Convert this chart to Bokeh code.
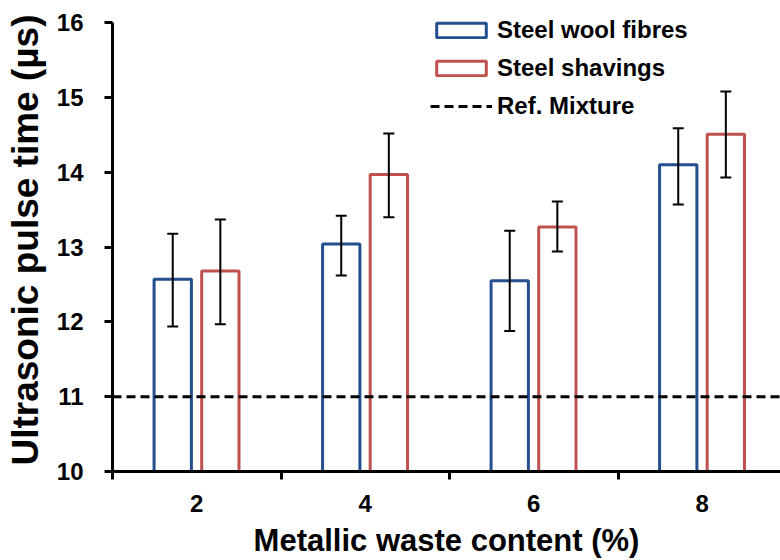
from bokeh.plotting import figure
from bokeh.models import (Range1d, FixedTicker, Whisker, ColumnDataSource,
                          Legend, LegendItem, TeeHead)
from bokeh.transform import dodge
from bokeh.embed import file_html
from bokeh.resources import INLINE

# ---- data ----
contents = [2, 4, 6, 8]
y_ticks = [10, 11, 12, 13, 14, 15, 16]
wool_mean = [12.57, 13.04, 12.55, 14.10]
wool_low = [11.94, 12.62, 11.88, 13.57]
wool_high = [13.18, 13.42, 13.22, 14.59]
shav_mean = [12.68, 13.97, 13.27, 14.51]
shav_low = [11.97, 13.40, 12.94, 13.93]
shav_high = [13.37, 14.52, 13.61, 15.08]
ref_value = 11.0
series_names = ["Steel wool fibres", "Steel shavings", "Ref. Mixture"]

BLUE = "#234F8E"
RED = "#C0504D"
FONT = "Liberation Sans"

W, H = 780, 560
LEFT, BOTTOM, TOP = 112, 89, 8
PX_PER_Y = 74.8
PX_PER_X = 84.25

src = ColumnDataSource(data=dict(
    x=contents,
    wool=wool_mean, wool_lo=wool_low, wool_hi=wool_high,
    shav=shav_mean, shav_lo=shav_low, shav_hi=shav_high,
))

frame_w = W - LEFT
frame_h = H - TOP - BOTTOM
x_range = Range1d(1, 1 + frame_w / PX_PER_X)
y_range = Range1d(y_ticks[0], y_ticks[0] + frame_h / PX_PER_Y)

p = figure(width=W, height=H, output_backend="svg", toolbar_location=None,
           x_range=x_range, y_range=y_range,
           min_border_left=LEFT, min_border_right=0, min_border_top=TOP,
           min_border_bottom=BOTTOM)
p.outline_line_color = None
p.xgrid.visible = False
p.ygrid.visible = False
p.background_fill_color = "white"
p.border_fill_color = "white"

off_w = -0.285
off_s = 0.28
bw = 0.443
r_wool = p.vbar(x=dodge("x", off_w, range=p.x_range), top="wool", width=bw,
                source=src, fill_color="white", line_color=BLUE, line_width=3)
r_shav = p.vbar(x=dodge("x", off_s, range=p.x_range), top="shav", width=bw,
                source=src, fill_color="white", line_color=RED, line_width=3)

for base, lo, hi in ((dodge("x", off_w, range=p.x_range), "wool_lo", "wool_hi"),
                     (dodge("x", off_s, range=p.x_range), "shav_lo", "shav_hi")):
    w = Whisker(base=base, lower=lo, upper=hi, source=src, level="annotation",
                line_color="black", line_width=2,
                upper_head=TeeHead(size=11, line_width=2, line_color="black"),
                lower_head=TeeHead(size=11, line_width=2, line_color="black"))
    p.add_layout(w)

r_ref = p.line(x=[x_range.start, x_range.end], y=[ref_value, ref_value],
               line_color="black", line_width=3, line_dash="9 5")

legend = Legend(items=[LegendItem(label=series_names[0], renderers=[r_wool]),
                       LegendItem(label=series_names[1], renderers=[r_shav]),
                       LegendItem(label=series_names[2], renderers=[r_ref])],
                location=(318, 351))
legend.border_line_color = None
legend.background_fill_alpha = 0
legend.padding = 0
legend.margin = 0
legend.spacing = 10
legend.glyph_width = 62
legend.glyph_height = 18
legend.label_standoff = 5
legend.label_text_font = FONT
legend.label_text_font_size = "24px"
legend.label_text_font_style = "bold"
legend.label_text_color = "black"
p.add_layout(legend)

# x axis
xa = p.xaxis[0]
xa.ticker = FixedTicker(ticks=contents, minor_ticks=[1, 3, 5, 7, 9])
xa.axis_label = "Metallic waste content (%)"
xa.axis_label_text_font = FONT
xa.axis_label_text_font_size = "31px"
xa.axis_label_text_font_style = "bold"
xa.axis_label_text_color = "black"
xa.axis_label_standoff = 8
xa.major_label_text_font = FONT
xa.major_label_text_font_size = "24px"
xa.major_label_text_font_style = "bold"
xa.major_label_text_color = "black"
xa.major_label_standoff = 15
xa.major_tick_line_color = None
xa.major_tick_out = 0
xa.major_tick_in = 0
xa.minor_tick_line_color = "black"
xa.minor_tick_line_width = 3
xa.minor_tick_out = 8
xa.minor_tick_in = 0
xa.axis_line_width = 3
xa.axis_line_color = "black"

# y axis
ya = p.yaxis[0]
ya.ticker = FixedTicker(ticks=y_ticks)
ya.bounds = (y_ticks[0], y_ticks[-1])
ya.axis_label = "Ultrasonic pulse time (µs)"
ya.axis_label_text_font = FONT
ya.axis_label_text_font_size = "37px"
ya.axis_label_text_font_style = "bold"
ya.axis_label_text_color = "black"
ya.axis_label_standoff = 8
ya.major_label_text_font = FONT
ya.major_label_text_font_size = "24px"
ya.major_label_text_font_style = "bold"
ya.major_label_text_color = "black"
ya.major_label_standoff = 21
ya.major_tick_line_width = 3
ya.major_tick_out = 8
ya.major_tick_in = 0
ya.minor_tick_line_color = None
ya.axis_line_width = 3
ya.axis_line_color = "black"

open("out.html", "w").write(file_html(p, INLINE))
